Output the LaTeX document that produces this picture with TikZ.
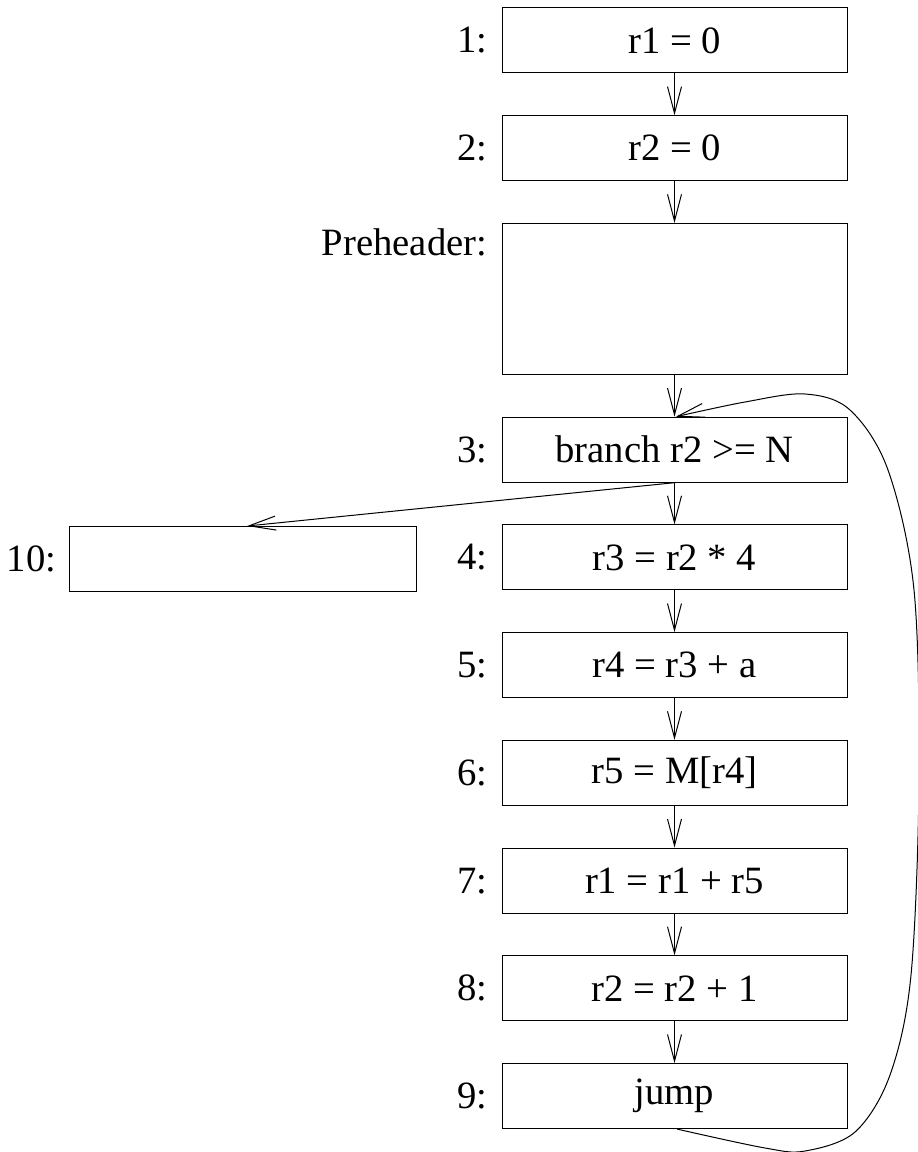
\documentclass[tikz,border=0pt]{standalone}
\usepackage{fontspec}
\setmainfont{Liberation Serif}
\usetikzlibrary{arrows.meta, positioning, calc}

\begin{document}
\begin{tikzpicture}[x=0.75pt, y=-0.75pt,
    block/.style={draw, line width=0.75pt, minimum width=258.75pt,
                  minimum height=48.75pt, inner sep=0pt,
                  font=\fontsize{29}{35}\selectfont},
    tag/.style={inner sep=0pt, font=\fontsize{29}{35}\selectfont},
    flow/.style={-{Straight Barb[length=20pt, width=10.5pt]}, line width=0.75pt}]
  \useasboundingbox (0,0) rectangle (917,1152);
  % main column
  \node[block] (b1) at (674.5,40.5) {r1 = 0};
  \node[block, below=31.3pt of b1] (b2) {r2 = 0};
  \node[block, below=31.3pt of b2, minimum height=113.25pt] (pre) {};
  \node[block, below=31.3pt of pre] (b3) {branch r2 >= N};
  \node[block, below=31.3pt of b3] (b4) {r3 = r2 * 4};
  \node[block, below=31.3pt of b4] (b5) {r4 = r3 + a};
  \node[block, below=31.3pt of b5] (b6) {r5 = M[r4]};
  \node[block, below=31.3pt of b6] (b7) {r1 = r1 + r5};
  \node[block, below=31.3pt of b7] (b8) {r2 = r2 + 1};
  \node[block, below=31.3pt of b8] (b9) {jump};
  % exit block
  \node[block, minimum width=260.25pt] (b10) at (242.5,559) {};
  % labels
  \node[tag, left=10.5pt of b1] (l1) {1:};
  \node[tag, left=10.5pt of b2] (l2) {2:};
  \node[tag, anchor=base east] (lpre) at ($(pre.north west)+(-14,33)$) {Preheader:};
  \node[tag, left=10.5pt of b3] (l3) {3:};
  \node[tag, left=10.5pt of b4] (l4) {4:};
  \node[tag, left=10.5pt of b5] (l5) {5:};
  \node[tag, left=10.5pt of b6] (l6) {6:};
  \node[tag, left=10.5pt of b7] (l7) {7:};
  \node[tag, left=10.5pt of b8] (l8) {8:};
  \node[tag, left=10.5pt of b9] (l9) {9:};
  \node[tag, left=9pt of b10] (l10) {10:};
  % edges
  \draw[flow] (b1) -- (b2);
  \draw[flow] (b2) -- (pre);
  \draw[flow] (pre) -- (b3);
  \draw[flow] (b3) -- (b4);
  \draw[flow] (b4) -- (b5);
  \draw[flow] (b5) -- (b6);
  \draw[flow] (b6) -- (b7);
  \draw[flow] (b7) -- (b8);
  \draw[flow] (b8) -- (b9);
  \draw[flow] (b3.south) -- ([xshift=3.5pt]b10.north);
  % back edge
  \draw[flow] plot[smooth, tension=0.55] coordinates {
    ([xshift=2pt]b9.south) (765,1148) (805,1151) (855,1132) (890,1075)
    (911,975) (919,780) (914,590) (888,470) (850,410) (805,394)
    (745,402) ([xshift=1pt]b3.north)};
\end{tikzpicture}
\end{document}
